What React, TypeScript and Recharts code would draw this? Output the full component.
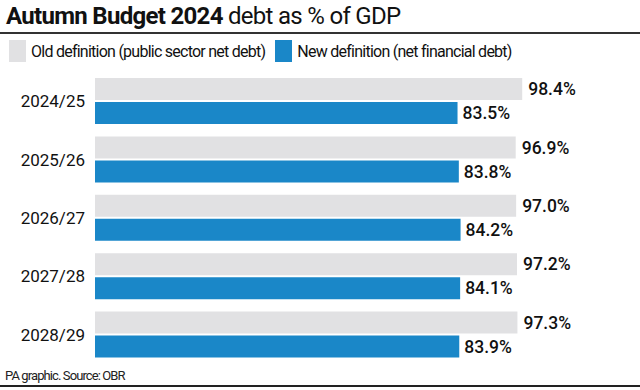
import { BarChart, Bar, XAxis, YAxis, LabelList } from "recharts";

const years = ["2024/25", "2025/26", "2026/27", "2027/28", "2028/29"];
const oldDefinition = [98.4, 96.9, 97.0, 97.2, 97.3];
const newDefinition = [83.5, 83.8, 84.2, 84.1, 83.9];

const GREY = "#e1e1e3";
const BLUE = "#1a87c8";

const data = years.map((year, i) => ({ year, old: oldDefinition[i], new: newDefinition[i] }));

const pct = (v: any) => `${Number(v).toFixed(1)}%`;

export default function App() {
  return (
    <div style={{ position: "relative", width: 640, height: 390, fontFamily: "Roboto, sans-serif", color: "#111", background: "#fff", overflow: "hidden" }}>
      <style>{`body{margin:0}`}</style>
      <div style={{ position: "absolute", left: 6, top: 2, fontSize: 24, letterSpacing: -0.7, whiteSpace: "nowrap" }}>
        <span style={{ fontWeight: 700 }}>Autumn Budget 2024</span> debt as % of GDP
      </div>
      <div style={{ position: "absolute", left: 0, top: 32, width: 640, height: 1.5, background: "#333" }} />

      <div style={{ position: "absolute", left: 9, top: 40, display: "flex", alignItems: "center", fontSize: 16, letterSpacing: -0.75, whiteSpace: "nowrap" }}>
        <span style={{ width: 17, height: 22, background: GREY, marginRight: 5 }} />
        <span>Old definition (public sector net debt)</span>
        <span style={{ width: 17, height: 22, background: BLUE, marginLeft: 10, marginRight: 5 }} />
        <span>New definition (net financial debt)</span>
      </div>

      <div style={{ position: "absolute", left: 0, top: 62 }}>
        <BarChart width={640} height={310} data={data} layout="vertical" barGap={2}
          margin={{ top: 10, right: 24, bottom: 8, left: 0 }}>
          <XAxis type="number" domain={[0, 120]} hide />
          <YAxis type="category" dataKey="year" width={95} axisLine={false} tickLine={false}
            tickSize={0} tickMargin={10} tick={{ fontSize: 17, fill: "#111" }} />
          <Bar dataKey="old" fill={GREY} barSize={22} isAnimationActive={false}>
            <LabelList dataKey="old" position="right" offset={6} formatter={pct}
              style={{ fontSize: 17.5, fontWeight: 500, fill: "#111" }} />
          </Bar>
          <Bar dataKey="new" fill={BLUE} barSize={22} isAnimationActive={false}>
            <LabelList dataKey="new" position="right" offset={5} formatter={pct}
              style={{ fontSize: 17.5, fontWeight: 500, fill: "#111" }} />
          </Bar>
        </BarChart>
      </div>

      <div style={{ position: "absolute", left: 5, top: 368, fontSize: 13, letterSpacing: -0.9, color: "#222" }}>
        PA graphic. Source: OBR
      </div>
      <div style={{ position: "absolute", left: 0, top: 385, width: 640, height: 2, background: "#222" }} />
    </div>
  );
}
